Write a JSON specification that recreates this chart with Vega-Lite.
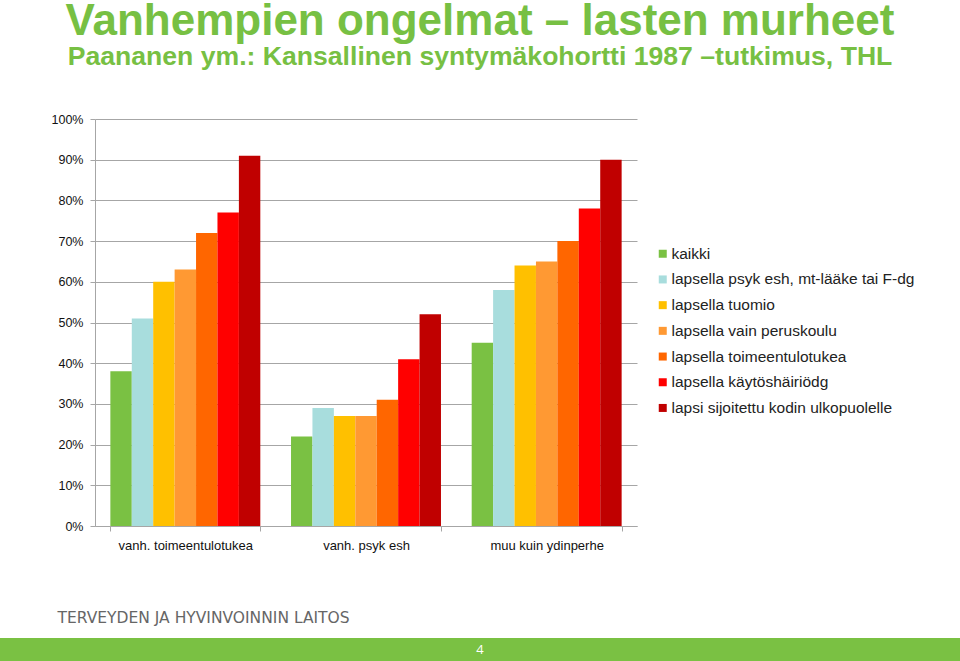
{
  "$schema": "https://vega.github.io/schema/vega-lite/v6.json",
  "padding": 0,
  "background": "white",
  "spacing": 12,
  "config": {"view": {"stroke": null}, "font": "Liberation Sans"},
  "vconcat": [
    {
      "width": 637,
      "height": 407,
      "title": {
        "text": "Vanhempien ongelmat – lasten murheet",
        "subtitle": "Paananen ym.: Kansallinen syntymäkohortti 1987 –tutkimus, THL",
        "font": "Liberation Sans",
        "fontSize": 44,
        "fontWeight": "bold",
        "color": "#77C043",
        "subtitleFont": "Liberation Sans",
        "subtitleFontSize": 26.6,
        "subtitleFontWeight": "bold",
        "subtitleColor": "#77C043",
        "subtitlePadding": 0,
        "anchor": "middle",
        "dx": 161.5,
        "offset": 42
      },
      "data": {
        "values": [
          {"group": "vanh. toimeentulotukea", "series": "kaikki", "value": 0.38},
          {"group": "vanh. toimeentulotukea", "series": "lapsella psyk esh, mt-lääke tai F-dg", "value": 0.51},
          {"group": "vanh. toimeentulotukea", "series": "lapsella tuomio", "value": 0.60},
          {"group": "vanh. toimeentulotukea", "series": "lapsella vain peruskoulu", "value": 0.63},
          {"group": "vanh. toimeentulotukea", "series": "lapsella toimeentulotukea", "value": 0.72},
          {"group": "vanh. toimeentulotukea", "series": "lapsella käytöshäiriödg", "value": 0.77},
          {"group": "vanh. toimeentulotukea", "series": "lapsi sijoitettu kodin ulkopuolelle", "value": 0.91},
          {"group": "vanh. psyk esh", "series": "kaikki", "value": 0.22},
          {"group": "vanh. psyk esh", "series": "lapsella psyk esh, mt-lääke tai F-dg", "value": 0.29},
          {"group": "vanh. psyk esh", "series": "lapsella tuomio", "value": 0.27},
          {"group": "vanh. psyk esh", "series": "lapsella vain peruskoulu", "value": 0.27},
          {"group": "vanh. psyk esh", "series": "lapsella toimeentulotukea", "value": 0.31},
          {"group": "vanh. psyk esh", "series": "lapsella käytöshäiriödg", "value": 0.41},
          {"group": "vanh. psyk esh", "series": "lapsi sijoitettu kodin ulkopuolelle", "value": 0.52},
          {"group": "muu kuin ydinperhe", "series": "kaikki", "value": 0.45},
          {"group": "muu kuin ydinperhe", "series": "lapsella psyk esh, mt-lääke tai F-dg", "value": 0.58},
          {"group": "muu kuin ydinperhe", "series": "lapsella tuomio", "value": 0.64},
          {"group": "muu kuin ydinperhe", "series": "lapsella vain peruskoulu", "value": 0.65},
          {"group": "muu kuin ydinperhe", "series": "lapsella toimeentulotukea", "value": 0.70},
          {"group": "muu kuin ydinperhe", "series": "lapsella käytöshäiriödg", "value": 0.78},
          {"group": "muu kuin ydinperhe", "series": "lapsi sijoitettu kodin ulkopuolelle", "value": 0.90}
        ]
      },
      "mark": {"type": "bar"},
      "encoding": {
        "x": {
          "field": "group",
          "type": "nominal",
          "sort": ["vanh. toimeentulotukea", "vanh. psyk esh", "muu kuin ydinperhe"],
          "scale": {"range": [95, 637], "paddingInner": 0.17, "paddingOuter": 0.085},
          "axis": {
            "title": "TERVEYDEN JA HYVINVOINNIN LAITOS",
            "titleFont": "DejaVu Sans",
            "titleFontWeight": "normal",
            "titleFontSize": 15.5,
            "titleColor": "#666666",
            "titleAnchor": "start",
            "titleAlign": "left",
            "titleX": 57,
            "titleY": 96,
            "titleBaseline": "alphabetic",
            "labelAngle": 0,
            "labelFontSize": 13,
            "labelColor": "#111111",
            "labelPadding": 8,
            "domainColor": "#A6A6A6",
            "tickColor": "#A6A6A6",
            "tickSize": 5,
            "tickBand": "extent"
          }
        },
        "xOffset": {
          "field": "series",
          "type": "nominal",
          "sort": ["kaikki", "lapsella psyk esh, mt-lääke tai F-dg", "lapsella tuomio", "lapsella vain peruskoulu", "lapsella toimeentulotukea", "lapsella käytöshäiriödg", "lapsi sijoitettu kodin ulkopuolelle"],
          "scale": {"paddingInner": 0, "paddingOuter": 0}
        },
        "y": {
          "field": "value",
          "type": "quantitative",
          "scale": {"domain": [0, 1]},
          "axis": {
            "title": null,
            "offset": -95,
            "format": ".0%",
            "values": [0, 0.1, 0.2, 0.3, 0.4, 0.5, 0.6, 0.7, 0.8, 0.9, 1],
            "grid": true,
            "gridColor": "#A6A6A6",
            "domainColor": "#A6A6A6",
            "tickColor": "#A6A6A6",
            "tickSize": 5,
            "labelFontSize": 12.5,
            "labelColor": "#111111",
            "labelPadding": 7
          }
        },
        "color": {
          "field": "series",
          "type": "nominal",
          "scale": {
            "domain": ["kaikki", "lapsella psyk esh, mt-lääke tai F-dg", "lapsella tuomio", "lapsella vain peruskoulu", "lapsella toimeentulotukea", "lapsella käytöshäiriödg", "lapsi sijoitettu kodin ulkopuolelle"],
            "range": ["#7AC143", "#A8DDDD", "#FFC000", "#FF9933", "#FF6600", "#FF0000", "#C00000"]
          },
          "legend": {
            "orient": "none",
            "legendX": 655,
            "legendY": 127,
            "title": null,
            "symbolType": "square",
            "symbolSize": 64,
            "symbolStrokeWidth": 0,
            "labelFontSize": 15.5,
            "labelColor": "#222222",
            "labelOffset": 1,
            "labelLimit": 0,
            "rowPadding": 8.7
          }
        }
      }
    },
    {
      "width": 960,
      "height": 23,
      "view": {"fill": "#7AC143", "stroke": null},
      "data": {"values": [{"page": "4"}]},
      "mark": {"type": "text", "color": "white", "fontSize": 13, "font": "Open Sans"},
      "encoding": {"text": {"field": "page", "type": "nominal"}}
    }
  ]
}
